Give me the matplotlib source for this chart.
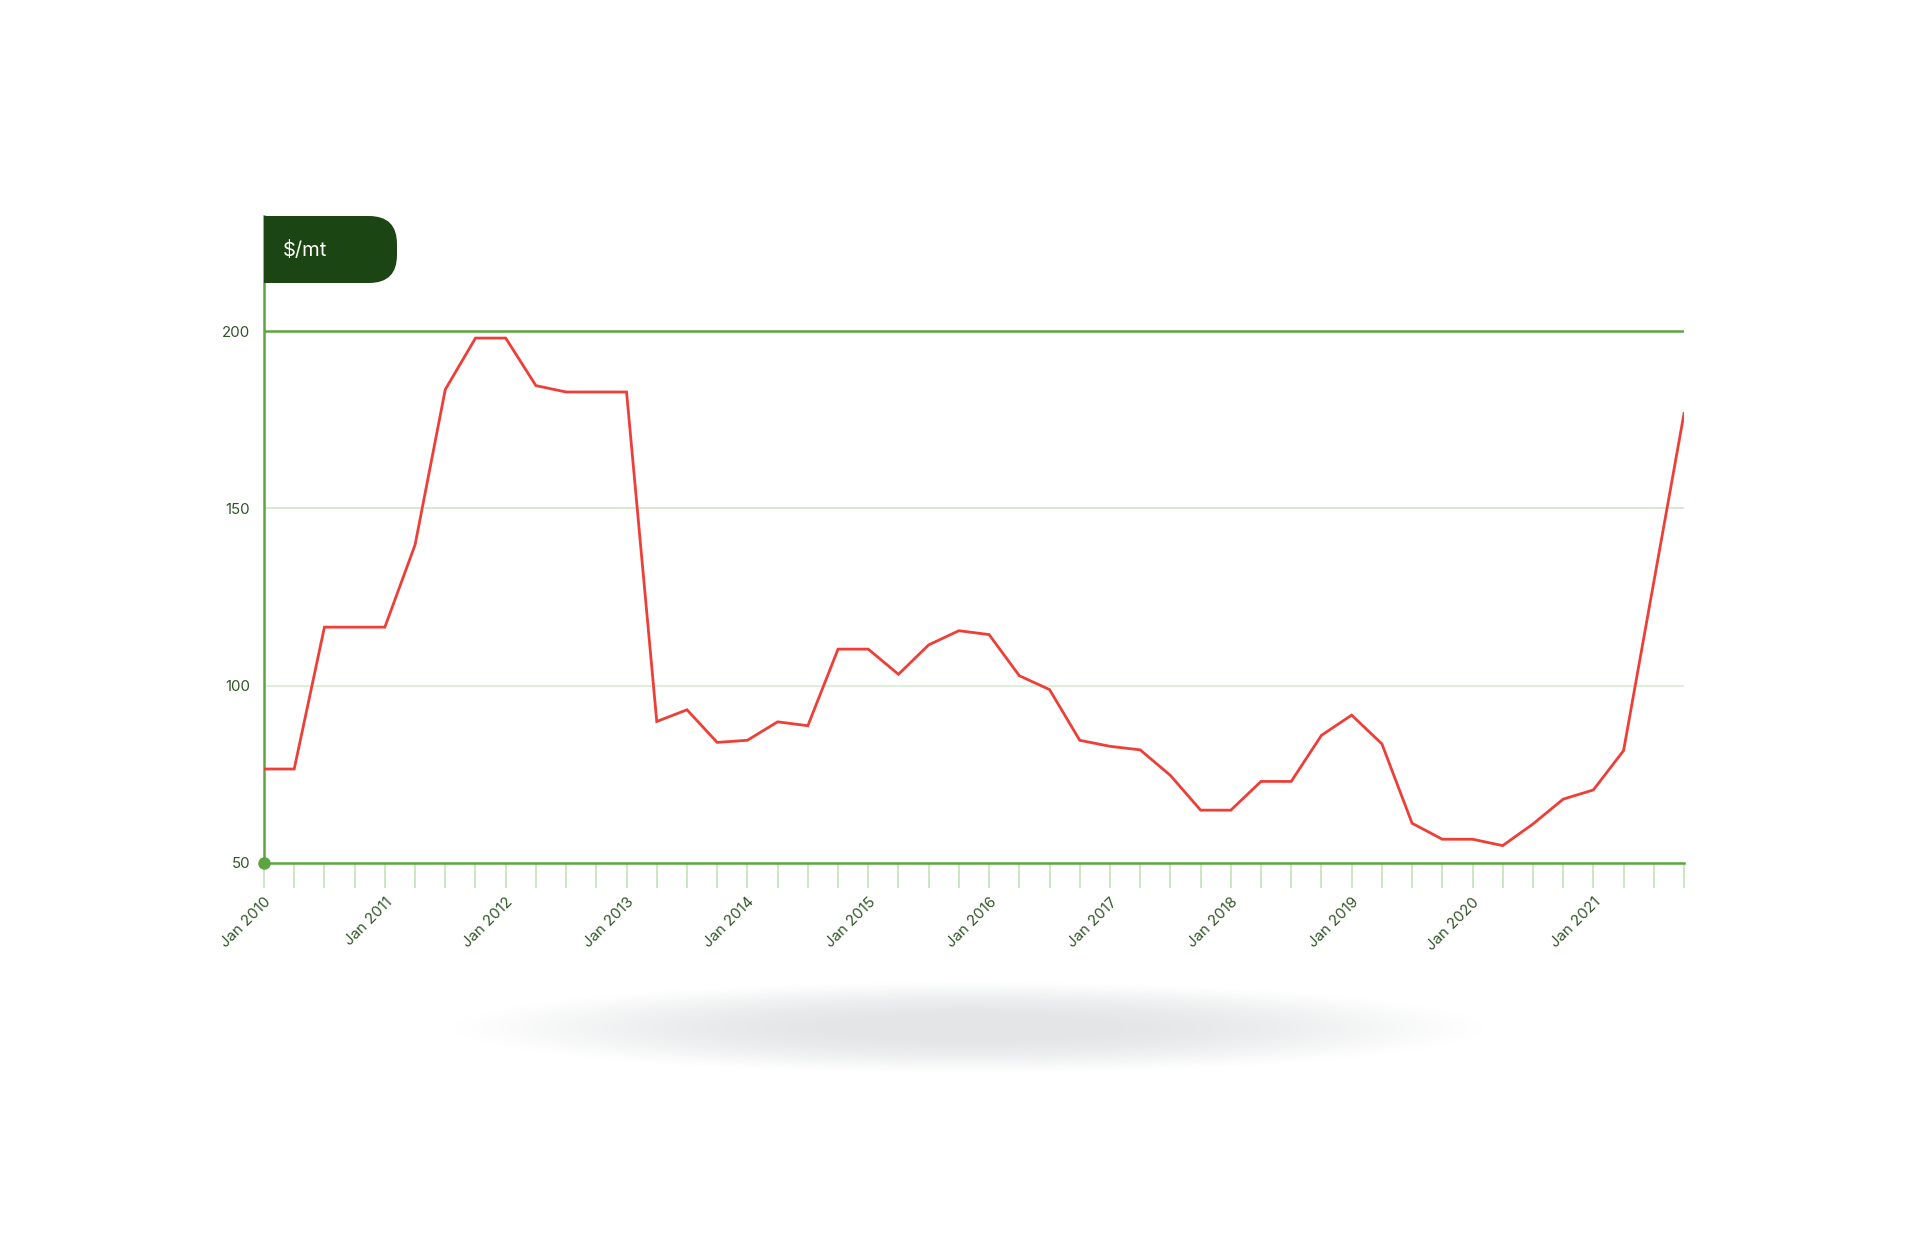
import numpy as np
import pandas as pd
import matplotlib
matplotlib.use("Agg")
from matplotlib import pyplot as plt
from matplotlib.patches import FancyBboxPatch, Rectangle
from matplotlib.transforms import IdentityTransform

plt.rcParams["font.family"] = ["Inter", "DejaVu Sans"]

# quarterly prices, $/mt
quarters = pd.date_range("2010-01-01", "2021-10-01", freq="QS")
prices = [76.5, 76.5, 116.5, 116.5, 116.5, 139.7, 183.5, 198.0,
          198.0, 184.6, 182.8, 182.8, 182.8, 89.9, 93.2, 84.0,
          84.6, 89.8, 88.7, 110.3, 110.3, 103.2, 111.5, 115.5,
          114.4, 102.8, 98.9, 84.6, 82.9, 81.9, 74.7, 64.9,
          64.9, 73.0, 73.0, 86.0, 91.7, 83.6, 61.2, 56.7,
          56.7, 54.9, 61.0, 68.0, 70.6, 81.7, 129.2, 176.7]
y_ticks = [50, 100, 150, 200]
unit_label = "$/mt"

W, H = 1920, 1233
dark_green = "#1b4513"
axis_green = "#5ba540"
text_green = "#2f5526"
tick_green = "#bfe0b4"
red = "#ee3e38"

fig = plt.figure(figsize=(W / 100, H / 100), dpi=100)

# soft shadow under the chart (fades to zero before the image edge)
sh = fig.add_axes([420 / W, 1 - 1090 / H, 1100 / W, 125 / H])
gx = np.linspace(-550, 550, 700)
gy = np.linspace(-62, 62, 160)
X, Y = np.meshgrid(gx, gy)
r = np.sqrt((X / 520) ** 2 + (Y / 46) ** 2)
img = np.zeros((len(gy), len(gx), 4))
img[..., :3] = np.array([0.83, 0.84, 0.85])
fade = np.clip(1 - r, 0, 1)
img[..., 3] = 0.85 * np.clip(fade ** 1.3 * (3 - 2 * fade) / 1.4, 0, 1)
sh.imshow(img, extent=[-550, 550, -62, 62], aspect="auto", interpolation="bilinear")
sh.axis("off")

# main axes: bottom at the 50 line, top at the badge top
left, right, top, bottom = 264, 1684, 216, 863
ax = fig.add_axes([left / W, 1 - bottom / H, (right - left) / W, (bottom - top) / H])
px_per_unit = (863 - 331) / 150
ax.set_ylim(50, 200 + (331 - top) / px_per_unit)
x = np.arange(len(quarters))
ax.set_xlim(0, len(quarters) - 1)

for v in y_ticks[1:-1]:
    ax.axhline(v, color="#cfe6c7" if v == 150 else "#d8ecd2", lw=1.2, zorder=1)
ax.axhline(y_ticks[-1], color=axis_green, lw=1.8, zorder=1)

ax.plot(x, prices, color=red, lw=2.0, zorder=3, solid_joinstyle="miter")
ax.plot([0], [y_ticks[0]], "o", color=axis_green, ms=8, clip_on=False, zorder=4)

for s in ["top", "right"]:
    ax.spines[s].set_visible(False)
for s in ["left", "bottom"]:
    ax.spines[s].set_color(axis_green)
    ax.spines[s].set_linewidth(1.8)

ax.set_yticks(y_ticks)
ax.set_yticklabels([str(v) for v in y_ticks])
ax.tick_params(axis="y", length=0, pad=10, labelsize=10.8, labelcolor=text_green)

ax.set_xticks(x)
ax.set_xticklabels([q.strftime("%b %Y") if q.month == 1 else "" for q in quarters])
ax.tick_params(axis="x", length=18, width=1.1, color=tick_green, pad=5,
               labelsize=10.8, labelcolor=text_green)
for lab in ax.get_xticklabels():
    lab.set_rotation(45)
    lab.set_ha("right")
    lab.set_va("top")
    lab.set_rotation_mode("anchor")

# unit badge, square on the left, rounded on the right
bx0, bx1, by0, by1 = 264, 397, H - 283, H - 216
fig.patches.append(FancyBboxPatch((bx0, by0), bx1 - bx0, by1 - by0,
                                  boxstyle="round,pad=0,rounding_size=28",
                                  transform=IdentityTransform(), fc=dark_green,
                                  ec="none", zorder=5))
fig.patches.append(Rectangle((bx0, by0), 40, by1 - by0, transform=IdentityTransform(),
                             fc=dark_green, ec="none", zorder=5))
fig.text(283 / W, 1 - 250 / H, unit_label, color="white", fontsize=14.5,
         va="center", ha="left", zorder=6)

fig.savefig("out.png", dpi=100, facecolor="white")
